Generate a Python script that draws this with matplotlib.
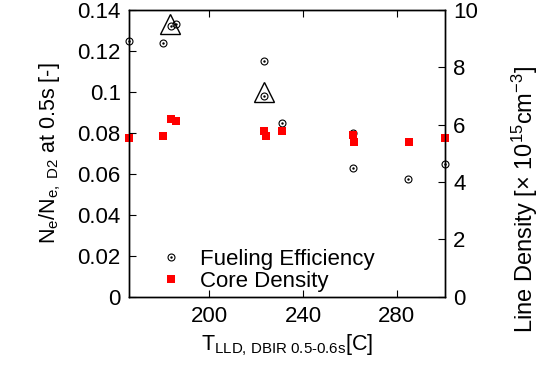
import numpy as np
import matplotlib
matplotlib.use('Agg')
import matplotlib.pyplot as plt
from matplotlib import rcParams

# LLD temperature (DBIR, 0.5-0.6 s) for each shot
temp_fe = [165.7, 180.4, 183.6, 185.8, 223.5, 223.2, 230.9, 261.2, 261.5, 285.0, 300.6]
# fueling efficiency N_e / N_e,D2 at 0.5 s
fueling_eff = [0.125, 0.124, 0.132, 0.133, 0.115, 0.098, 0.0846, 0.080, 0.0626, 0.0573, 0.0646]

temp_cd = [165.7, 180.4, 183.6, 185.8, 224.1, 223.4, 230.9, 261.2, 261.8, 285.3, 300.6]
# core line density [1e15 cm^-3]
core_density = [5.55, 5.62, 6.20, 6.14, 5.62, 5.79, 5.79, 5.64, 5.40, 5.40, 5.55]

# shots flagged with a triangle
temp_flag = [183.3, 223.5]
fe_flag = [0.1334, 0.0999]

rcParams['font.family'] = 'Liberation Sans'
rcParams['mathtext.fontset'] = 'custom'
rcParams['mathtext.rm'] = 'Liberation Sans'
rcParams['mathtext.it'] = 'Liberation Sans'
rcParams['font.size'] = 15.5
rcParams['axes.linewidth'] = 1.0

fig = plt.figure(figsize=(5.39, 3.73), dpi=100)
ax = fig.add_axes([0.2393, 0.2046, 0.5863, 0.7686])
ax2 = ax.twinx()

# fueling efficiency: open circle with a centre dot
fe_ring, = ax.plot(temp_fe, fueling_eff, 'o', ms=5, mfc='none', mec='black', mew=0.8,
                   clip_on=False, label='Fueling Efficiency')
fe_dot, = ax.plot(temp_fe, fueling_eff, '.', ms=1.5, color='black', clip_on=False)
ax.plot(temp_flag, fe_flag, '^', ms=14, mfc='none', mec='black', mew=1.0, clip_on=False)

cd_sq, = ax2.plot(temp_cd, core_density, 's', ms=5.8, color='red', mec='red', mew=0,
                  clip_on=False, label='Core Density')

ax.set_xlim(165.7, 300.6)
ax.set_ylim(0, 0.14)
ax2.set_ylim(0, 10)

ax.set_xticks([200, 240, 280])
ax.set_yticks(np.arange(0, 0.141, 0.02))
ax.set_yticklabels(['0', '0.02', '0.04', '0.06', '0.08', '0.1', '0.12', '0.14'])
ax2.set_yticks(np.arange(0, 10.1, 2))

ax.tick_params(axis='both', direction='in', length=5, width=0.8, top=True, pad=7,
               labelsize=16)
ax.tick_params(axis='y', right=False, pad=6)
ax2.tick_params(axis='y', direction='in', length=5, width=0.8, pad=6, labelsize=16)

ax.set_ylabel(r'N$_\mathrm{e}$/N$_{\mathrm{e},\ \mathrm{D2}}$ at 0.5s [-]', labelpad=10)
ax.set_xlabel(r'T$_{\text{LLD, DBIR 0.5-0.6s}}$[C]', labelpad=4)
fig.text(0.973, 0.466, r'Line Density [$\times$ 10$^{15}$cm$^{-3}$]', rotation=90,
         ha='center', va='center', fontsize=17)

ax2.legend([(fe_ring, fe_dot), cd_sq], ['Fueling Efficiency', 'Core Density'],
           loc='lower left', bbox_to_anchor=(0.035, -0.045), frameon=False,
           handlelength=1.2, handletextpad=0.7, labelspacing=0.05, borderpad=0.3,
           fontsize=16)

fig.savefig('out.png', dpi=100)
